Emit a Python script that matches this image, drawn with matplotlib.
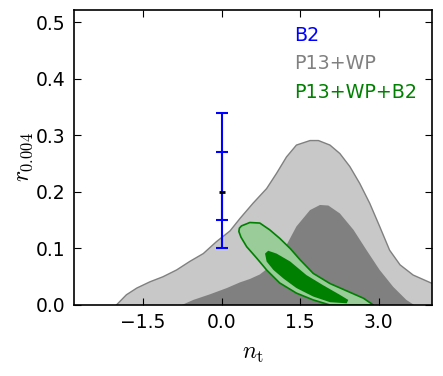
import matplotlib
matplotlib.use('Agg')
import matplotlib.pyplot as plt
import numpy as np

plt.rcParams['mathtext.fontset'] = 'cm'

# P13+WP contours (n_t, r)
p13_95_nt = [-2.01, -1.82, -1.62, -1.37, -1.12, -0.86, -0.61, -0.35, -0.10, 0.16, 0.35, 0.60, 0.86,
             1.05, 1.24, 1.43, 1.69, 1.85, 2.07, 2.26, 2.45, 2.64, 2.83, 3.02, 3.21, 3.41, 3.66, 4.05]
p13_95_r = [0.0, 0.018, 0.030, 0.041, 0.050, 0.062, 0.077, 0.091, 0.112, 0.131, 0.153, 0.180, 0.206,
            0.233, 0.262, 0.283, 0.291, 0.291, 0.283, 0.268, 0.245, 0.215, 0.180, 0.139, 0.097, 0.071, 0.053, 0.037]
p13_68_nt = [-0.76, -0.54, -0.22, 0.10, 0.35, 0.54, 0.73, 1.05, 1.24, 1.43, 1.69, 1.88, 2.04,
             2.26, 2.52, 2.77, 3.02, 3.28, 3.53, 3.68]
p13_68_r = [0.0, 0.009, 0.019, 0.030, 0.040, 0.046, 0.054, 0.077, 0.106, 0.139, 0.168, 0.177, 0.176,
            0.162, 0.133, 0.097, 0.062, 0.032, 0.009, 0.0]

# P13+WP+B2 contours (closed loops)
b2_95_nt = [0.34, 0.38, 0.54, 0.73, 0.92, 1.11, 1.31, 1.50, 1.75, 2.07, 2.39, 2.71, 2.90,
            2.07, 1.75, 1.43, 1.11, 0.86, 0.67, 0.48, 0.37, 0.33, 0.34]
b2_95_r = [0.136, 0.140, 0.146, 0.145, 0.133, 0.118, 0.100, 0.080, 0.056, 0.038, 0.025, 0.012, 0.0,
           0.0, 0.009, 0.021, 0.039, 0.062, 0.083, 0.103, 0.120, 0.130, 0.136]
b2_68_nt = [0.83, 0.89, 1.05, 1.31, 1.62, 1.94, 2.26, 2.42, 2.39, 2.07, 1.75, 1.43, 1.18, 0.99, 0.86, 0.83]
b2_68_r = [0.091, 0.096, 0.091, 0.077, 0.053, 0.035, 0.018, 0.009, 0.003, 0.005, 0.015, 0.030, 0.047, 0.062, 0.077, 0.091]

# B2 constraint
b2_nt = 0.0
b2_r = 0.2
b2_err_68 = [[0.05], [0.07]]
b2_err_95 = [[0.10], [0.14]]

labels = ['B2', 'P13+WP', 'P13+WP+B2']
label_colors = ['#0000ff', '#808080', '#008000']

fig = plt.figure(figsize=(4.43, 3.76), dpi=100)
ax = fig.add_axes([74 / 443, 1 - 305 / 376, 358 / 443, 295 / 376])

ax.fill(p13_95_nt + [4.05], p13_95_r + [0.0], color='#c8c8c8', lw=0)
ax.plot(p13_95_nt, p13_95_r, color='#808080', lw=1, solid_joinstyle='round')
ax.fill(p13_68_nt, p13_68_r, color='#808080', lw=0)

ax.fill(b2_95_nt, b2_95_r, facecolor='#99cc99', edgecolor='#008000', lw=1.2, joinstyle='round')
ax.fill(b2_68_nt, b2_68_r, facecolor='#008000', lw=0)

ax.errorbar([b2_nt], [b2_r], yerr=b2_err_95, color='#0000ff', lw=1.5, capsize=4, capthick=1.5, fmt='none')
ax.errorbar([b2_nt], [b2_r], yerr=b2_err_68, color='#0000ff', lw=1.5, capsize=4, capthick=1.5, fmt='none')
ax.plot([b2_nt], [b2_r], marker='_', color='k', ms=4, mew=2)

for i, (lab, c) in enumerate(zip(labels, label_colors)):
    ax.text(0.614, 0.915 - i * 0.097, lab, color=c, fontsize=13.7, transform=ax.transAxes, va='center')

ax.set_xlim(-2.82, 4.02)
ax.set_ylim(0, 0.522)
ax.set_xticks([-1.5, 0.0, 1.5, 3.0])
ax.set_yticks([0.0, 0.1, 0.2, 0.3, 0.4, 0.5])
ax.tick_params(direction='in', top=True, right=True, length=5, labelsize=13.5, pad=6)
ax.set_xlabel(r'$n_{\rm t}$', fontsize=17, labelpad=6)
ax.set_ylabel(r'$r_{0.004}$', fontsize=17, labelpad=1)
for s in ax.spines.values():
    s.set_linewidth(1.2)

plt.savefig('out.png', dpi=100)
